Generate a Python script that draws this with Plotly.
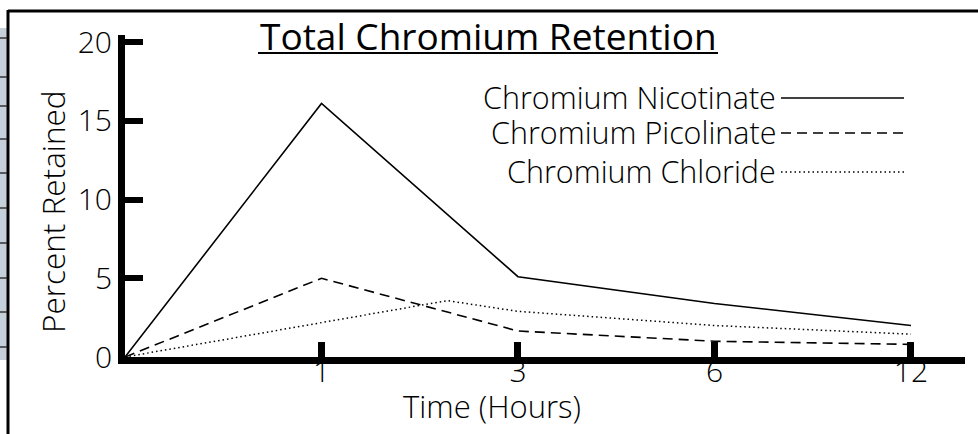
import plotly.graph_objects as go

# ---- data ----
time_labels = ["1", "3", "6", "12"]          # categorical tick labels
tick_pos = [1, 2, 3, 4]                       # equally spaced positions
nicotinate_x = [0, 1, 2, 3, 4]
nicotinate_y = [0, 16.1, 5.1, 3.4, 2.0]
picolinate_x = [0, 1, 2, 3, 4]
picolinate_y = [0, 5.0, 1.65, 1.0, 0.8]
chloride_x = [0, 1.64, 2, 3, 4]
chloride_y = [0, 3.58, 2.9, 2.0, 1.45]
y_ticks = [0, 5, 10, 15, 20]

W, H = 978, 434
L, R, T, B = 125, 13, 35, 77
PW, PH = W - L - R, H - T - B
FONT = "Open Sans"


def px(p):
    return (p - L) / PW


def py(p):
    return (H - B - p) / PH


fig = go.Figure()
fig.add_trace(go.Scatter(x=nicotinate_x, y=nicotinate_y, mode="lines",
                         line=dict(color="black", width=1.6), name="Chromium Nicotinate"))
fig.add_trace(go.Scatter(x=picolinate_x, y=picolinate_y, mode="lines",
                         line=dict(color="black", width=1.6, dash="10px,6px"), name="Chromium Picolinate"))
fig.add_trace(go.Scatter(x=chloride_x, y=chloride_y, mode="lines",
                         line=dict(color="black", width=1.5, dash="1.5px,3px"), name="Chromium Chloride"))

shapes = []
annotations = []

# title + underline
annotations.append(dict(text="Total Chromium Retention", x=px(488), y=py(35), xref="paper", yref="paper",
                        showarrow=False, xanchor="center", yanchor="middle",
                        font=dict(family=FONT, size=37, color="black", weight=500)))
shapes.append(dict(type="line", xref="paper", yref="paper", x0=px(258), x1=px(718), y0=py(53), y1=py(53),
                   line=dict(color="black", width=2)))

# custom legend (text right, sample line on the right)
legend_items = [("Chromium Nicotinate", 97, "solid"),
                ("Chromium Picolinate", 132, "10px,6px"),
                ("Chromium Chloride", 171, "1.5px,3px")]
for name, yy, dash in legend_items:
    annotations.append(dict(text=name, x=px(777), y=py(yy), xref="paper", yref="paper", showarrow=False,
                            xanchor="right", yanchor="middle", borderpad=0,
                            font=dict(family=FONT, size=30.5, color="black", weight=300)))
    shapes.append(dict(type="line", xref="paper", yref="paper", x0=px(781), x1=px(904), y0=py(yy + 1), y1=py(yy + 1),
                       line=dict(color="black", width=1.5, dash=dash)))

# axis titles
annotations.append(dict(text="Percent Retained", x=px(52), y=py(212), xref="paper", yref="paper",
                        showarrow=False, textangle=-90, xanchor="center", yanchor="middle",
                        font=dict(family=FONT, size=31.5, color="black", weight=300)))
annotations.append(dict(text="Time (Hours)", x=px(492), y=py(406), xref="paper", yref="paper",
                        showarrow=False, xanchor="center", yanchor="middle", borderpad=0,
                        font=dict(family=FONT, size=31, color="black", weight=300)))

# scan frame artefacts
shapes.append(dict(type="line", xref="paper", yref="paper", x0=px(8), x1=px(978), y0=py(11), y1=py(11),
                   line=dict(color="black", width=3)))
shapes.append(dict(type="line", xref="paper", yref="paper", x0=px(8), x1=px(8), y0=py(10), y1=py(434),
                   line=dict(color="black", width=3)))
shapes.append(dict(type="rect", xref="paper", yref="paper", x0=px(0), x1=px(7), y0=py(28), y1=py(360),
                   fillcolor="#c5d0da", line=dict(width=0), layer="below"))
for yy in [38, 77, 106, 139, 173, 208, 243, 278, 312, 347]:
    shapes.append(dict(type="line", xref="paper", yref="paper", x0=px(0), x1=px(7), y0=py(yy), y1=py(yy),
                       line=dict(color="#333", width=1.5)))

fig.update_layout(
    width=W, height=H,
    margin=dict(l=L, r=R, t=T, b=B),
    paper_bgcolor="white", plot_bgcolor="white",
    showlegend=False,
    shapes=shapes, annotations=annotations,
    xaxis=dict(range=[0, 4.275], tickvals=tick_pos, ticktext=time_labels,
               showgrid=False, zeroline=False, showline=True, linecolor="black", linewidth=7,
               ticks="inside", ticklen=15, tickwidth=7, tickcolor="black",
               tickfont=dict(family=FONT, size=30, color="black", weight=300), ticklabelstandoff=-18),
    yaxis=dict(range=[0, 20.45], tickvals=y_ticks,
               showgrid=False, zeroline=False, showline=True, linecolor="black", linewidth=7,
               ticks="inside", ticklen=18, tickwidth=6, tickcolor="black",
               tickfont=dict(family=FONT, size=30, color="black", weight=300), ticklabelstandoff=0),
)

fig.write_html("out.html", config={"displayModeBar": False},
               post_script="document.body.style.margin='0';document.body.style.padding='0';")
